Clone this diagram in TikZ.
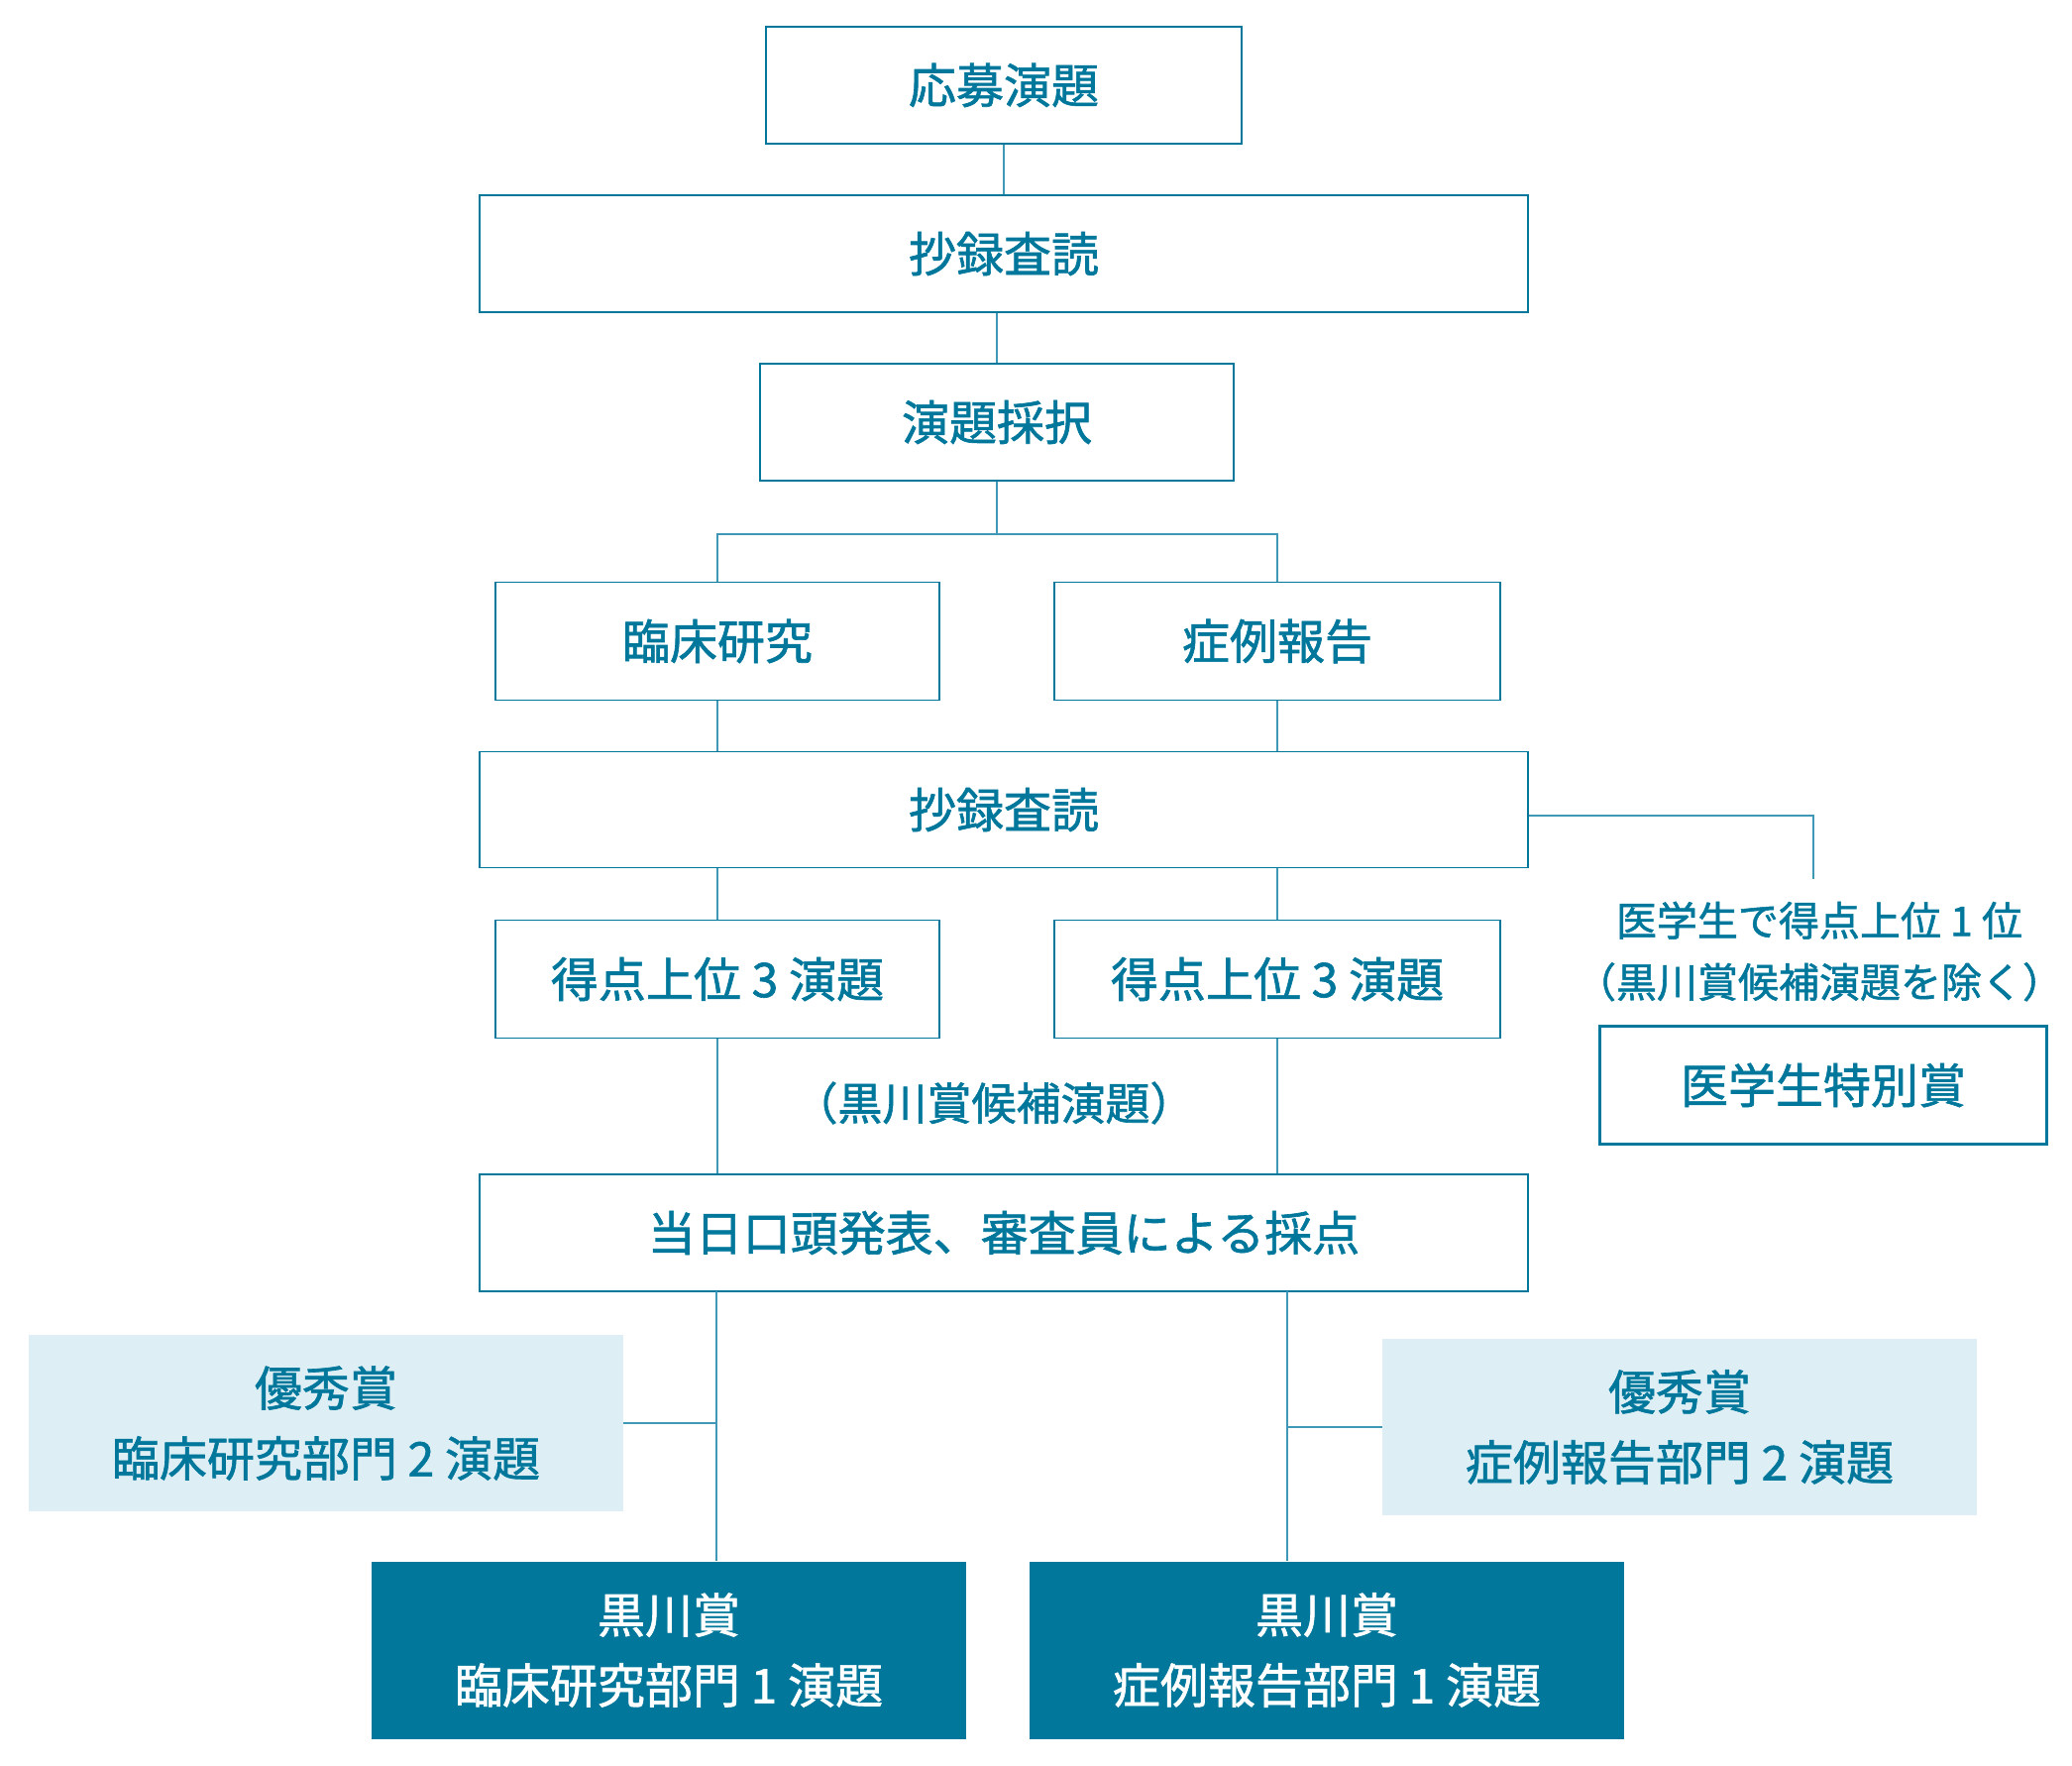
\documentclass[tikz,border=0pt]{standalone}
\usepackage{fontspec}
\newfontfamily\jpfont[FakeBold=1.3]{Noto Sans CJK JP}
\definecolor{ink}{HTML}{00779B}
\definecolor{wire}{HTML}{3E98B6}
\definecolor{pale}{HTML}{DDEEF5}
\begin{document}
\begin{tikzpicture}[x=1pt, y=-1pt, every node/.style={font=\jpfont\fontsize{48}{71}\selectfont, text=ink, inner sep=0pt, align=center}]
  \tikzset{box/.style={draw=ink, line width=1.6pt, minimum height=118pt}, prize/.style={fill=pale, minimum width=600pt, minimum height=178pt}, grand/.style={fill=ink, text=white, minimum width=600pt, minimum height=179pt}, wire/.style={draw=wire, line width=1.4pt}}
  \useasboundingbox (0,0) rectangle (2091,1781);

  % first screening
  \node[box, minimum width=480pt] (obo) at (1013,86) {応募演題};
  \node[box, minimum width=1058pt] (shoroku) at (1013,256) {抄録査読};
  \node[box, minimum width=478pt] (saitaku) at (1006,426) {演題採択};
  \node[box, minimum width=448pt, minimum height=119pt] (rinsho) at (724,647) {臨床研究};
  \node[box, minimum width=450pt, minimum height=119pt] (shorei) at (1289,647) {症例報告};
  \coordinate (fork) at (1006,539);

  % second screening
  \node[box, minimum width=1058pt, minimum height=117pt] (shoroku2) at (1013,817) {抄録査読};
  \node[box, minimum width=448pt, minimum height=119pt] (jouiA) at (724,988) {得点上位 3 演題};
  \node[box, minimum width=450pt, minimum height=119pt] (jouiB) at (1289,988) {得点上位 3 演題};
  \node[font=\jpfont\fontsize{45}{60}\selectfont] (kouho) at (1003,1113) {（黒川賞候補演題）};
  \node[box, minimum width=1058pt] (tojitsu) at (1013,1244) {当日口頭発表、審査員による採点};

  % student prize on the right
  \node[font=\jpfont\fontsize{41}{62}\selectfont] (igakuNote) at (1836,960) {医学生で得点上位 1 位\\（黒川賞候補演題を除く）};
  \node[box, line width=3.4pt, minimum width=451pt, minimum height=119pt] (igaku) at (1840,1095) {医学生特別賞};
  \coordinate (noteTop) at (1830,887);

  % prizes
  \node[prize] (yushuA) at (329,1436) {優秀賞\\臨床研究部門 2 演題};
  \node[prize] (yushuB) at (1695,1440) {優秀賞\\症例報告部門 2 演題};
  \node[grand] (kurokawaA) at (675,1665) {黒川賞\\臨床研究部門 1 演題};
  \node[grand] (kurokawaB) at (1339,1665) {黒川賞\\症例報告部門 1 演題};
  \coordinate (dropA) at (723,1303);
  \coordinate (dropB) at (1299,1303);

  % connectors
  \draw[wire] (obo.south) -- (shoroku.north);
  \draw[wire] (saitaku.north |- shoroku.south) -- (saitaku.north);
  \draw[wire] (saitaku.south) -- (fork);
  \draw[wire] (rinsho.north) |- (fork) -| (shorei.north);
  \draw[wire] (rinsho.south) -- (rinsho.south |- shoroku2.north);
  \draw[wire] (shorei.south) -- (shorei.south |- shoroku2.north);
  \draw[wire] (jouiA.north |- shoroku2.south) -- (jouiA.north);
  \draw[wire] (jouiB.north |- shoroku2.south) -- (jouiB.north);
  \draw[wire] (jouiA.south) -- (jouiA.south |- tojitsu.north);
  \draw[wire] (jouiB.south) -- (jouiB.south |- tojitsu.north);
  \draw[wire] ([yshift=-6pt]shoroku2.east) -| (noteTop);
  \draw[wire] (dropA) -- (dropA |- kurokawaA.north);
  \draw[wire] (dropB) -- (dropB |- kurokawaB.north);
  \draw[wire] (yushuA.east) -- (yushuA.east -| dropA);
  \draw[wire] (yushuB.west) -- (yushuB.west -| dropB);
\end{tikzpicture}
\end{document}
